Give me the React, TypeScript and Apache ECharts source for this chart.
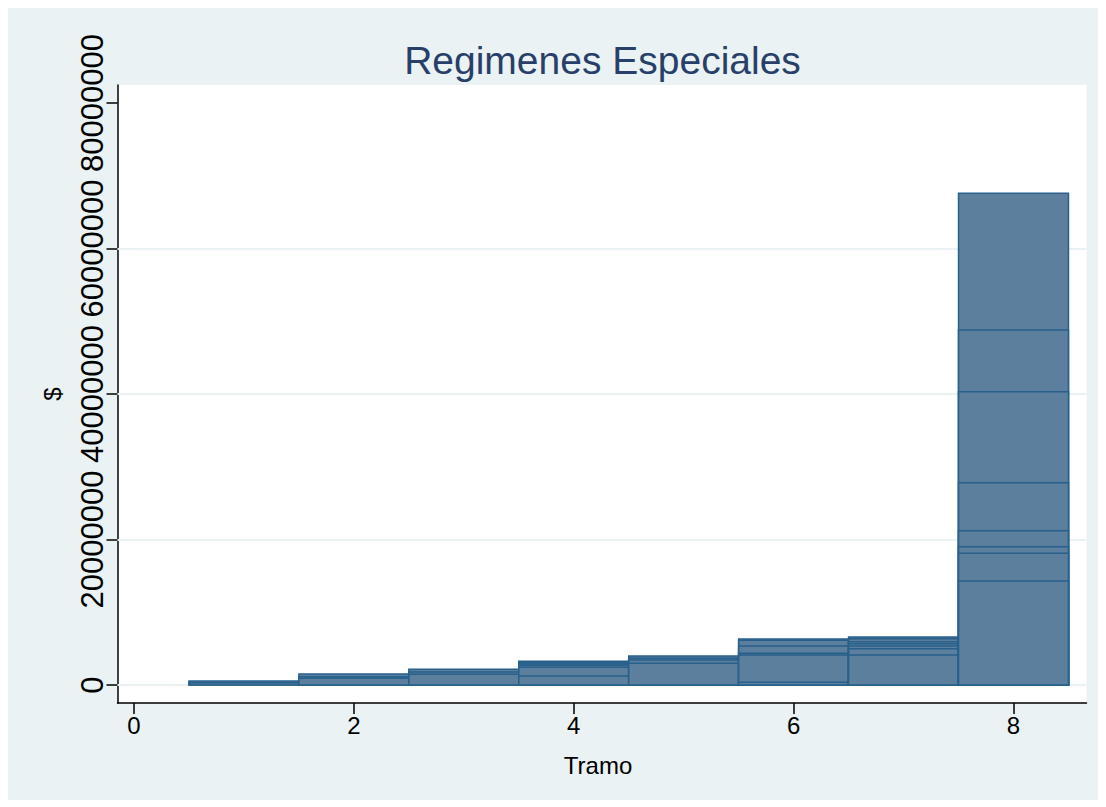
import React, { useEffect, useRef } from "react";
import * as echarts from "echarts";

const tramos = [1, 2, 3, 4, 5, 6, 7, 8];
const tramo1 = [550000, 300000];
const tramo2 = [1510000, 1140000, 920000];
const tramo3 = [2160000, 1790000, 1470000];
const tramo4 = [3260000, 3070000, 2890000, 2710000, 2430000, 1240000];
const tramo5 = [3990000, 3670000, 3440000, 2980000];
const tramo6 = [6320000, 6140000, 5360000, 4360000, 4120000, 370000];
const tramo7 = [6600000, 6370000, 5950000, 5680000, 5360000, 4990000, 4120000];
const tramo8 = [67600000, 48800000, 40300000, 27800000, 21200000, 19000000, 18100000, 14300000];
const valuesByTramo = [tramo1, tramo2, tramo3, tramo4, tramo5, tramo6, tramo7, tramo8];

const xTicks = [0, 2, 4, 6, 8];
const yTicks = [0, 20000000, 40000000, 60000000, 80000000];
const gridValues = [0, 20000000, 40000000, 60000000];

const FONT = "'Liberation Sans', Arial, Helvetica, sans-serif";

export default function App() {
  const ref = useRef<HTMLDivElement>(null);
  useEffect(() => {
    if (!ref.current) return;
    const chart = echarts.init(ref.current, null, { renderer: "svg" });
    const data: number[][] = [];
    tramos.forEach((t, i) => {
      const vals = [...valuesByTramo[i]].sort((a, b) => b - a);
      vals.forEach((v) => data.push([t, v]));
    });
    chart.setOption({
      animation: false,
      backgroundColor: "#EAF2F3",
      textStyle: { fontFamily: FONT },
      grid: { left: 109.5, right: 11.5, top: 77, bottom: 97, containLabel: false, show: true, backgroundColor: "#ffffff", borderWidth: 0 },
      xAxis: {
        type: "value",
        min: -0.15,
        max: 8.664,
        axisLine: { onZero: false, lineStyle: { color: "#000", width: 1.5 } },
        axisTick: { show: true, length: 11, lineStyle: { color: "#000", width: 1.5 }, customValues: xTicks },
        axisLabel: { customValues: xTicks, color: "#000", fontSize: 24, margin: 10, fontFamily: FONT },
        splitLine: { show: false },
      },
      yAxis: {
        type: "value",
        min: -2474000,
        max: 82470000,
        axisLine: { show: true, onZero: false, lineStyle: { color: "#000", width: 1.5 } },
        axisTick: { show: true, length: 11, lineStyle: { color: "#000", width: 1.5 }, customValues: yTicks },
        axisLabel: {
          customValues: yTicks,
          color: "#000",
          fontSize: 31,
          rotate: 90,
          margin: 10,
          fontFamily: FONT,
          formatter: (v: number) => String(Math.round(v)),
        },
        splitLine: { show: false },
      },
      graphic: [
        {
          type: "text",
          x: 594.5,
          y: 52,
          style: { text: "Regimenes Especiales", fontSize: 39, fill: "#283F69", fontFamily: FONT, align: "center", verticalAlign: "middle" },
        },
        {
          type: "text",
          x: 590,
          y: 757,
          style: { text: "Tramo", fontSize: 24, fill: "#000", fontFamily: FONT, align: "center", verticalAlign: "middle" },
        },
        {
          type: "text",
          x: 44,
          y: 386,
          rotation: Math.PI / 2,
          style: { text: "$", fontSize: 24, fill: "#000", fontFamily: FONT, align: "center", verticalAlign: "middle" },
        },
      ],
      series: [
        {
          type: "line",
          data: [],
          z: 1,
          silent: true,
          markLine: {
            z: 1,
            silent: true,
            symbol: "none",
            label: { show: false },
            lineStyle: { color: "#EAF2F3", width: 2, type: "solid" },
            data: gridValues.map((v) => ({ yAxis: v })),
          },
        },
        {
          type: "custom",
          z: 10,
          data,
          renderItem: (params: any, api: any) => {
            const x = api.value(0);
            const v = api.value(1);
            const p0 = api.coord([x - 0.5, v]);
            const p1 = api.coord([x + 0.5, 0]);
            return {
              type: "rect",
              shape: { x: p0[0], y: p0[1], width: p1[0] - p0[0], height: p1[1] - p0[1] },
              style: { fill: "#5B7F9C", stroke: "#28608C", lineWidth: 1.5 },
            };
          },
        },
      ],
    });
    return () => chart.dispose();
  }, []);
  return <div ref={ref} style={{ width: 1090, height: 792 }} />;
}
